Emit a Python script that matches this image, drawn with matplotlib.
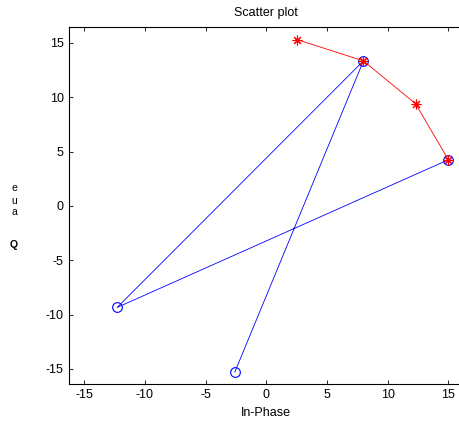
import matplotlib
matplotlib.use('Agg')
import matplotlib.pyplot as plt

plt.rcParams['font.family'] = ['Liberation Sans', 'DejaVu Sans']
plt.rcParams['axes.unicode_minus'] = False

# received (blue) and reference (red) points
rx_i = [-2.6, 8.0, -12.3, 15.0]
rx_q = [-15.3, 13.35, -9.35, 4.25]
ref_i = [2.55, 8.0, 12.3, 15.0]
ref_q = [15.3, 13.35, 9.4, 4.25]

ticks = [-15, -10, -5, 0, 5, 10, 15]

fig = plt.figure(figsize=(4.6, 4.23), dpi=100)
ax = fig.add_axes([0.149, 0.092, 0.860, 0.845])

ax.plot(rx_i, rx_q, color='blue', lw=0.6)
ax.plot(rx_i, rx_q, 'o', mfc='none', mec='blue', ms=7, mew=0.8)
ax.plot(ref_i, ref_q, color='red', lw=0.6, marker=(8, 2, 0), ms=7, mew=0.8)

ax.set_xlim(-16.3, 16.3)
ax.set_ylim(-16.4, 16.5)
ax.set_xticks(ticks)
ax.set_yticks(ticks)
ax.tick_params(direction='in', top=True, right=False, labelsize=9, length=3, width=0.6)
for s in ax.spines.values():
    s.set_linewidth(0.8)
ax.spines['right'].set_visible(False)

ax.set_title('Scatter plot', fontsize=9, pad=8)
ax.set_xlabel('In-Phase', fontsize=9, labelpad=4)

# broken vertical y label as it appears in the reference
for ch, yp in [('e', 188), ('u', 201), ('a', 212), ('Q', 245)]:
    fig.text(14 / 460, 1 - yp / 423, ch, fontsize=7.5, ha='center', va='center',
             fontweight='bold' if ch == 'Q' else 'normal')

fig.savefig('out.png', dpi=100)
